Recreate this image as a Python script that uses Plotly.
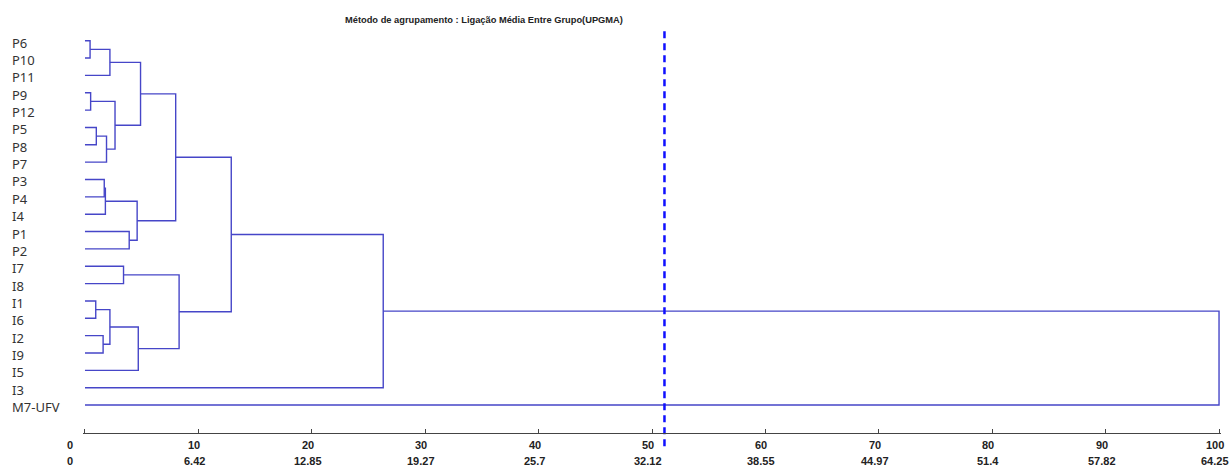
import plotly.graph_objects as go

# Leaf order (top to bottom)
leaves = ["P6", "P10", "P11", "P9", "P12", "P5", "P8", "P7", "P3", "P4", "I4",
          "P1", "P2", "I7", "I8", "I1", "I6", "I2", "I9", "I5", "I3", "M7-UFV"]

# UPGMA merges: (left child, right child, relative distance)
merge_a = ["P6", "c1", "P9", "P5", "c4", "c3", "c2", "P3", "c8", "P1", "c9", "c7",
           "I7", "I1", "I2", "c14", "c16", "c13", "c12", "c19", "c20"]
merge_b = ["P10", "P11", "P12", "P8", "P7", "c5", "c6", "P4", "I4", "P2", "c10", "c11",
           "I8", "I6", "I9", "c15", "I5", "c17", "c18", "I3", "M7-UFV"]
merge_h = [0.45, 2.2, 0.5, 1.0, 1.9, 2.65, 4.9, 1.7, 1.8, 3.9, 4.6, 8.0,
           3.4, 0.95, 1.6, 2.2, 4.7, 8.3, 12.9, 26.3, 100.0]

# Axis ticks: primary scale and corresponding distance scale
tick_vals = [0, 10, 20, 30, 40, 50, 60, 70, 80, 90, 100]
tick_dist = ["0", "6.42", "12.85", "19.27", "25.7", "32.12", "38.55", "44.97", "51.4", "57.82", "64.25"]

cut_level = 51.1

LINE = "rgb(70,70,200)"
TICK_FONT = dict(family="Liberation Sans", size=11, color="#222222", weight="bold")

pos = {name: (0.0, float(i)) for i, name in enumerate(leaves)}
xs, ys = [], []
for k, (a, b, h) in enumerate(zip(merge_a, merge_b, merge_h), start=1):
    ha, ya = pos[a]
    hb, yb = pos[b]
    xs += [ha, h, h, hb, None]
    ys += [ya, ya, yb, yb, None]
    pos[f"c{k}"] = (h, (ya + yb) / 2)

fig = go.Figure()
fig.add_trace(go.Scatter(x=xs, y=ys, mode="lines",
                         line=dict(color=LINE, width=1.4),
                         hoverinfo="skip", showlegend=False))
fig.add_trace(go.Scatter(x=[cut_level, cut_level], y=[-0.55, 23.5], mode="lines",
                         line=dict(color="#1010ff", width=2.5, dash="7px,5px"),
                         hoverinfo="skip", showlegend=False))

for i, name in enumerate(leaves):
    fig.add_annotation(x=10 / 1230, xref="paper", y=i, yref="y", text=name,
                       xanchor="left", yanchor="middle", yshift=-2, showarrow=False,
                       font=dict(family="Noto Sans", size=13, color="#333333"))

# Two-row scale labels under the axis
for v, d in zip(tick_vals, tick_dist):
    shift = -15 if v == 0 else -4
    fig.add_annotation(x=v, xref="x", y=1 - 445 / 468, yref="paper", text=str(v),
                       xanchor="center", yanchor="middle", xshift=shift,
                       showarrow=False, font=TICK_FONT)
    fig.add_annotation(x=v, xref="x", y=1 - 461 / 468, yref="paper", text=d,
                       xanchor="center", yanchor="middle", xshift=shift,
                       showarrow=False, font=TICK_FONT)

fig.add_annotation(x=484 / 1230, xref="paper", y=1 - 20 / 468, yref="paper",
                   text="<b>Método de agrupamento : Ligação Média Entre Grupo(UPGMA)</b>",
                   showarrow=False, xanchor="center", yanchor="middle",
                   font=dict(family="Liberation Sans", size=9.3, color="#222222"))

fig.update_layout(
    width=1230, height=468,
    margin=dict(l=0, r=0, t=0, b=0),
    paper_bgcolor="white", plot_bgcolor="white",
    xaxis=dict(domain=[82.7 / 1230, 1221.3 / 1230], range=[-0.2, 100.2],
               anchor="free", position=1 - 433 / 468,
               showline=True, linecolor="#444444", linewidth=1,
               ticks="inside", ticklen=4, tickcolor="#444444",
               tickvals=tick_vals, showticklabels=False,
               showgrid=False, zeroline=False, fixedrange=True),
    yaxis=dict(range=[24.63, -2.346], visible=False, showgrid=False,
               zeroline=False, fixedrange=True),
)

fig.write_html("out.html")
